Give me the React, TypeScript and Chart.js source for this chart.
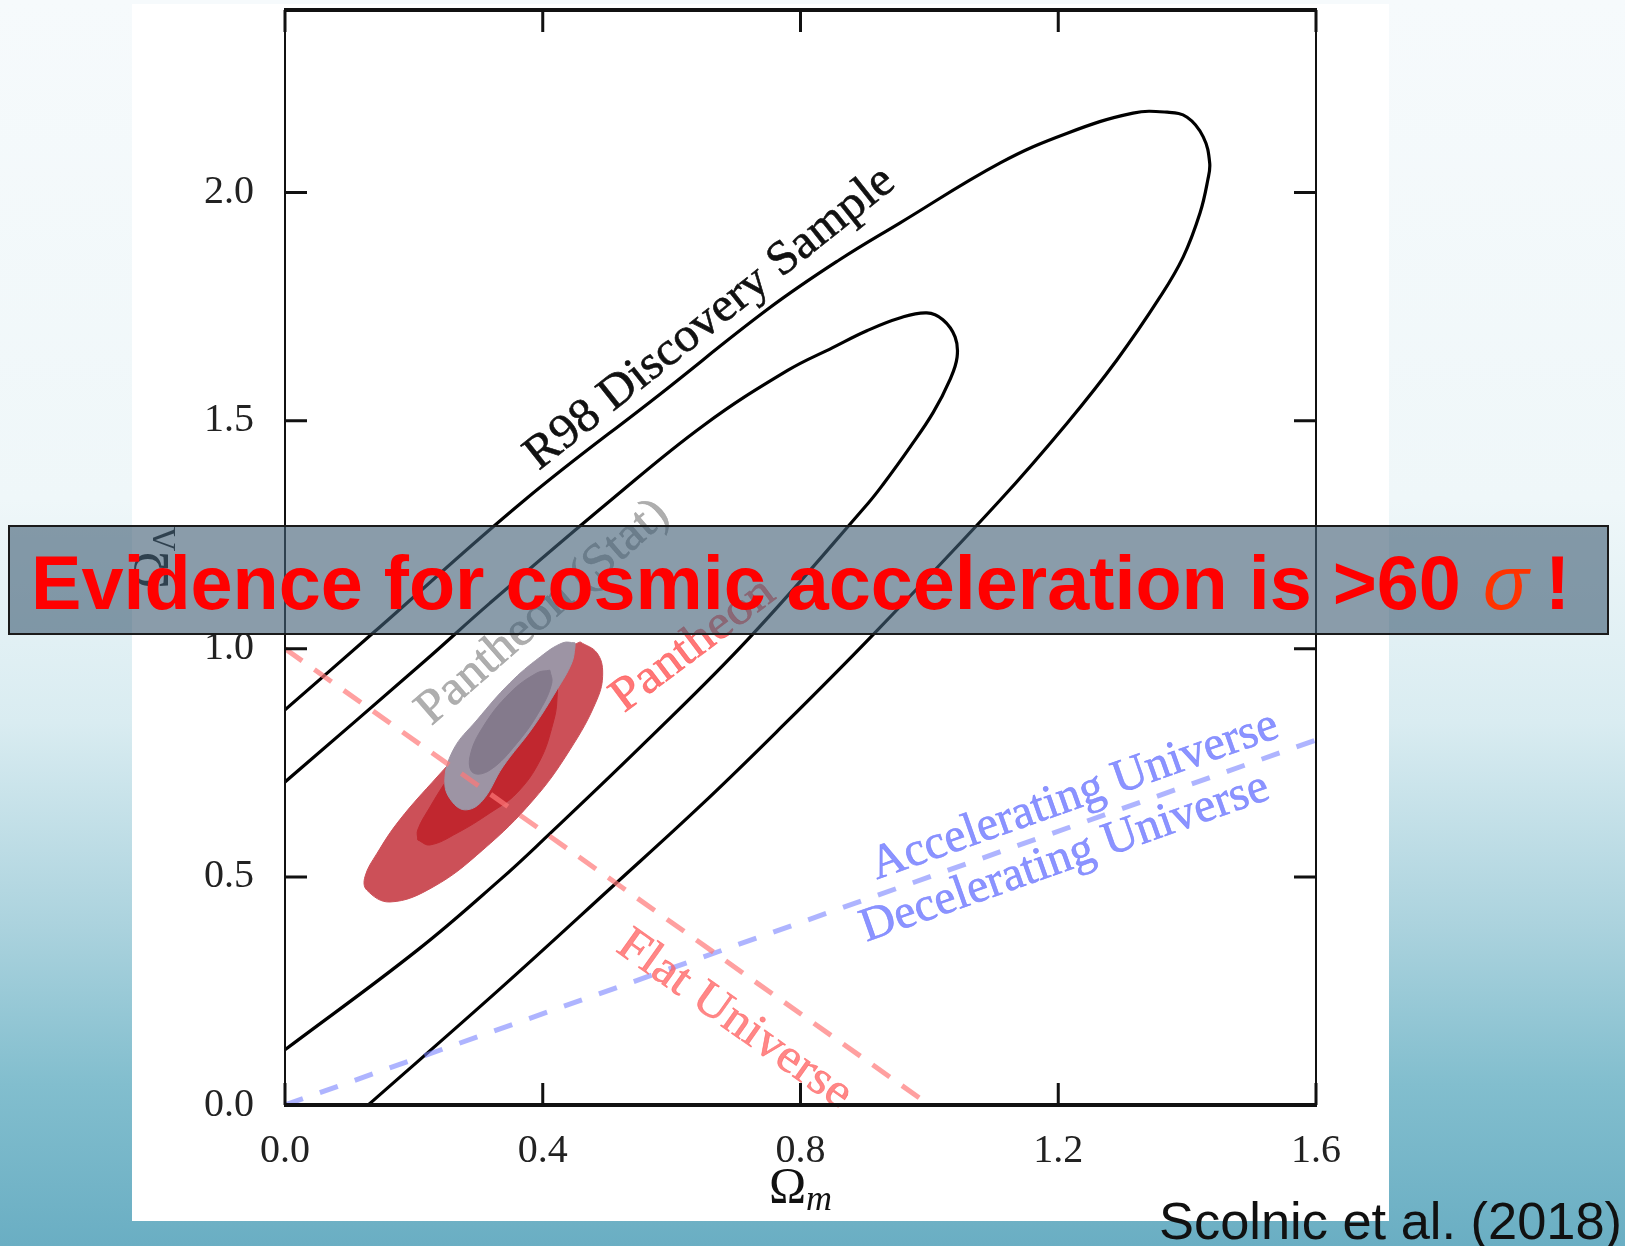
import { useEffect, useRef } from "react";
import { Chart, registerables } from "chart.js";

Chart.register(...registerables);

// ---- axis definitions ----
const xTicks = [0, 0.4, 0.8, 1.2, 1.6];
const yTicks = [0, 0.5, 1.0, 1.5, 2.0];
const xRange = [0, 1.6];
const yRange = [0, 2.4];

// ---- R98 discovery sample contours (Omega_m, Omega_Lambda) ----
const r98Outer: [number, number][] = [
  [0.129, 0.0], [0.334, 0.255], [0.509, 0.48], [0.644, 0.655], [0.763, 0.818],
  [0.912, 1.03], [1.11, 1.326], [1.214, 1.495], [1.291, 1.633], [1.358, 1.771],
  [1.394, 1.859], [1.42, 1.955], [1.432, 2.027], [1.435, 2.065], [1.425, 2.122],
  [1.4, 2.165], [1.369, 2.176], [1.316, 2.174], [1.214, 2.13], [1.11, 2.065],
  [0.954, 1.933], [0.86, 1.852], [0.75, 1.745], [0.582, 1.558], [0.372, 1.326],
  [0.137, 1.035], [0, 0.866],
];
const r98Inner: [number, number][] = [
  [0, 0.121], [0.206, 0.34], [0.334, 0.494], [0.4, 0.58], [0.562, 0.799],
  [0.722, 1.026], [0.905, 1.319], [0.928, 1.36], [0.97, 1.442], [1.006, 1.518],
  [1.032, 1.59], [1.043, 1.639], [1.04, 1.683], [1.021, 1.721], [0.996, 1.736],
  [0.954, 1.725], [0.903, 1.697], [0.85, 1.66], [0.78, 1.61], [0.65, 1.49],
  [0.506, 1.326], [0.318, 1.1], [0.216, 0.972], [0, 0.708],
];

// ---- Pantheon contours ----
const pantheonOuter: [number, number][] = [
  [0.458, 1.015], [0.484, 0.991], [0.493, 0.947], [0.484, 0.888], [0.442, 0.778],
  [0.385, 0.668], [0.307, 0.559], [0.23, 0.478], [0.163, 0.445], [0.127, 0.471],
  [0.124, 0.5], [0.143, 0.552], [0.178, 0.625], [0.236, 0.719], [0.307, 0.828],
  [0.369, 0.925], [0.422, 0.991], [0.458, 1.015],
];
const pantheonInner: [number, number][] = [
  [0.206, 0.581], [0.225, 0.57], [0.267, 0.596], [0.318, 0.64], [0.36, 0.684],
  [0.396, 0.756], [0.416, 0.837], [0.422, 0.888], [0.419, 0.932], [0.396, 0.949],
  [0.34, 0.87], [0.29, 0.79], [0.251, 0.712], [0.225, 0.653], [0.206, 0.603],
  [0.206, 0.581],
];
const statOuter: [number, number][] = [
  [0.45, 1.013], [0.431, 1.013], [0.396, 0.982], [0.349, 0.925], [0.298, 0.844],
  [0.261, 0.778], [0.248, 0.706], [0.261, 0.662], [0.282, 0.647], [0.307, 0.668],
  [0.338, 0.741], [0.385, 0.828], [0.422, 0.91], [0.445, 0.969], [0.45, 1.004],
  [0.45, 1.013],
];
const statInner: [number, number][] = [
  [0.411, 0.953], [0.391, 0.947], [0.349, 0.903], [0.307, 0.828], [0.287, 0.763],
  [0.292, 0.728], [0.318, 0.734], [0.36, 0.793], [0.396, 0.866], [0.414, 0.925],
  [0.411, 0.953],
];

// ---- reference lines ----
const flatLine: [number, number][] = [[0, 1], [1, 0]];
const accelLine: [number, number][] = [[0, 0], [1.6, 0.8]];

// ---- in-plot labels: text, data x, data y (baseline centre), angle deg, target length px ----
const labelTexts = ["R98 Discovery Sample", "Pantheon (Stat)", "Pantheon", "Flat Universe", "Accelerating Universe", "Decelerating Universe"];
const labelX = [0.672, 0.413, 0.645, 0.686, 1.232, 1.217];
const labelY = [1.702, 1.059, 0.985, 0.164, 0.651, 0.515];
const labelAngle = [-38.5, -41, -37, 35.3, -19.5, -19.5];
const labelLen = [458, 318, 192, 276, 429, 430];
const labelColor = [
  "#111111",
  "rgba(160,160,160,0.85)",
  "rgba(255,85,85,0.8)",
  "rgba(255,95,95,0.75)",
  "rgba(110,120,255,0.8)",
  "rgba(110,120,255,0.8)",
];

const bannerMain = "Evidence for cosmic acceleration is >60";
const bannerSigma = "σ";
const bannerBang = "!";
const credit = "Scolnic et al. (2018)";

const toPts = (arr: [number, number][]) => arr.map(([x, y]) => ({ x, y }));

function fitText(ctx: CanvasRenderingContext2D, text: string, x: number, y: number, angle: number, font: string, color: string, len: number) {
  ctx.save();
  ctx.translate(x, y);
  ctx.rotate((angle * Math.PI) / 180);
  ctx.font = font;
  const w = ctx.measureText(text).width;
  ctx.scale(len / w, 1);
  ctx.fillStyle = color;
  ctx.strokeStyle = color;
  ctx.lineWidth = 0.6;
  ctx.textAlign = "center";
  ctx.textBaseline = "alphabetic";
  ctx.fillText(text, 0, 0);
  ctx.strokeText(text, 0, 0);
  ctx.restore();
}

const overlayPlugin = {
  id: "overlay",
  afterDatasetsDraw(chart: any) {
    const ctx: CanvasRenderingContext2D = chart.ctx;
    const xs = chart.scales.x;
    const ys = chart.scales.y;
    const { left, right, top, bottom } = chart.chartArea;

    for (let i = 0; i < labelTexts.length; i++) {
      fitText(ctx, labelTexts[i], xs.getPixelForValue(labelX[i]), ys.getPixelForValue(labelY[i]), labelAngle[i], '48px "Liberation Serif"', labelColor[i], labelLen[i]);
    }

    ctx.save();
    ctx.strokeStyle = "#111";
    ctx.lineWidth = 2;
    ctx.beginPath();
    ctx.moveTo(left, top); ctx.lineTo(left, bottom);
    ctx.moveTo(right, top); ctx.lineTo(right, bottom);
    ctx.stroke();
    ctx.lineWidth = 4;
    ctx.beginPath();
    ctx.moveTo(left - 1, top); ctx.lineTo(right + 1, top);
    ctx.moveTo(left - 1, bottom); ctx.lineTo(right + 1, bottom);
    ctx.stroke();

    ctx.lineWidth = 3;
    ctx.beginPath();
    for (const v of xTicks) {
      const px = xs.getPixelForValue(v);
      ctx.moveTo(px, bottom); ctx.lineTo(px, bottom - 22);
      ctx.moveTo(px, top); ctx.lineTo(px, top + 22);
    }
    for (const v of yTicks) {
      const py = ys.getPixelForValue(v);
      ctx.moveTo(left, py); ctx.lineTo(left + 22, py);
      ctx.moveTo(right, py); ctx.lineTo(right - 22, py);
    }
    ctx.stroke();

    ctx.fillStyle = "#111";
    ctx.textBaseline = "alphabetic";
    ctx.textAlign = "left";
    ctx.font = '50px "Liberation Serif"';
    const wO = ctx.measureText("Ω").width;
    ctx.font = 'italic 36px "Liberation Serif"';
    const wm = ctx.measureText("m").width;
    const cx = (left + right) / 2;
    let x0 = cx - (wO + wm) / 2;
    ctx.font = '50px "Liberation Serif"';
    ctx.fillText("Ω", x0, 1202);
    ctx.font = 'italic 36px "Liberation Serif"';
    ctx.fillText("m", x0 + wO, 1210);

    ctx.save();
    const cy = (top + bottom) / 2;
    ctx.translate(167, cy);
    ctx.rotate(-Math.PI / 2);
    ctx.font = '34px "Liberation Serif"';
    const wL = ctx.measureText("Λ").width;
    x0 = -(wO + wL) / 2;
    ctx.font = '50px "Liberation Serif"';
    ctx.fillText("Ω", x0, 0);
    ctx.font = '34px "Liberation Serif"';
    ctx.fillText("Λ", x0 + wO, 8);
    ctx.restore();
    ctx.restore();
  },
  afterDraw(chart: any) {
    const ctx: CanvasRenderingContext2D = chart.ctx;
    ctx.save();
    ctx.fillStyle = "rgba(66,95,118,0.62)";
    ctx.fillRect(8, 525, 1601, 110);
    ctx.strokeStyle = "#1a1a1a";
    ctx.lineWidth = 2;
    ctx.strokeRect(9, 526, 1599, 108);

    ctx.textAlign = "left";
    ctx.textBaseline = "alphabetic";
    ctx.font = 'bold 100px "Liberation Sans"';
    const w100 = ctx.measureText(bannerMain).width;
    const size = (100 * 1430) / w100;
    ctx.font = `bold ${size}px "Liberation Sans"`;
    ctx.fillStyle = "#ff0000";
    ctx.fillText(bannerMain, 31, 609);
    ctx.font = `italic ${size}px "Liberation Sans"`;
    ctx.fillStyle = "#ff3300";
    ctx.fillText(bannerSigma, 1483, 609);
    ctx.font = `bold ${size}px "Liberation Sans"`;
    ctx.fillStyle = "#ff0000";
    ctx.fillText(bannerBang, 1545, 609);

    ctx.font = '52px "Liberation Sans"';
    const wc = ctx.measureText(credit).width;
    ctx.save();
    ctx.translate(1159, 1239);
    ctx.scale(463 / wc, 1);
    ctx.fillStyle = "#111";
    ctx.fillText(credit, 0, 0);
    ctx.restore();
    ctx.restore();
  },
};

export default function App() {
  const ref = useRef<HTMLCanvasElement | null>(null);

  useEffect(() => {
    if (!ref.current) return;
    const line = (data: [number, number][], extra: any) => ({
      data: toPts(data),
      showLine: true,
      pointRadius: 0,
      pointHoverRadius: 0,
      fill: false,
      ...extra,
    });
    const shape = (data: [number, number][], color: string, order: number) =>
      line(data, { fill: "shape", backgroundColor: color, borderColor: color, borderWidth: 1, tension: 0.4, order });

    const chart = new Chart(ref.current, {
      type: "scatter",
      data: {
        datasets: [
          line(flatLine, { borderColor: "rgba(255,120,120,0.7)", borderWidth: 5, borderDash: [21, 15], order: 0 }),
          line(accelLine, { borderColor: "rgba(120,130,255,0.6)", borderWidth: 5, borderDash: [19, 18], order: 0 }),
          line(r98Outer, { borderColor: "#000", borderWidth: 3.2, tension: 0.4, order: 1 }),
          line(r98Inner, { borderColor: "#000", borderWidth: 3.2, tension: 0.4, order: 1 }),
          shape(statInner, "#847a8c", 2),
          shape(statOuter, "#9d94a4", 3),
          shape(pantheonInner, "#c1272f", 4),
          shape(pantheonOuter, "#cc5058", 5),
        ] as any,
      },
      options: {
        animation: false,
        responsive: false,
        maintainAspectRatio: false,
        events: [],
        layout: { autoPadding: false, padding: { left: 0, right: 309, top: 10, bottom: 0 } },
        plugins: { legend: { display: false }, tooltip: { enabled: false }, title: { display: false } },
        scales: {
          x: {
            type: "linear",
            min: xRange[0],
            max: xRange[1],
            grid: { display: false, drawTicks: false, tickLength: 0 },
            border: { display: false },
            afterBuildTicks: (s: any) => { s.ticks = xTicks.map((v) => ({ value: v })); },
            afterFit: (s: any) => {
              s.height = 141;
              s.paddingLeft = 0; s.paddingRight = 0; s.paddingTop = 0; s.paddingBottom = 0;
            },
            ticks: {
              autoSkip: false,
              maxRotation: 0,
              padding: 22,
              color: "#222",
              font: { family: '"Liberation Serif"', size: 40 },
              callback: (v: any) => Number(v).toFixed(1),
            },
          },
          y: {
            type: "linear",
            min: yRange[0],
            max: yRange[1],
            grid: { display: false, drawTicks: false, tickLength: 0 },
            border: { display: false },
            afterBuildTicks: (s: any) => { s.ticks = yTicks.map((v) => ({ value: v })); },
            afterFit: (s: any) => {
              s.width = 285;
              s.paddingLeft = 0; s.paddingRight = 0; s.paddingTop = 0; s.paddingBottom = 0;
            },
            ticks: {
              autoSkip: false,
              padding: 31,
              color: "#222",
              font: { family: '"Liberation Serif"', size: 40 },
              callback: (v: any) => Number(v).toFixed(1),
            },
          },
        },
      } as any,
      plugins: [overlayPlugin],
    });
    return () => chart.destroy();
  }, []);

  return (
    <div
      style={{
        position: "fixed",
        left: 0,
        top: 0,
        width: 1625,
        height: 1246,
        overflow: "hidden",
        background:
          "linear-gradient(180deg, #f6fafc 0%, #eff7f9 40%, #d9ecf1 58%, #acd3de 74%, #82bece 87%, #6aaec3 100%)",
      }}
    >
      <div style={{ position: "absolute", left: 132, top: 4, width: 1257, height: 1217, background: "#ffffff" }} />
      <canvas ref={ref} width={1625} height={1246} style={{ position: "absolute", left: 0, top: 0, width: 1625, height: 1246 }} />
    </div>
  );
}
